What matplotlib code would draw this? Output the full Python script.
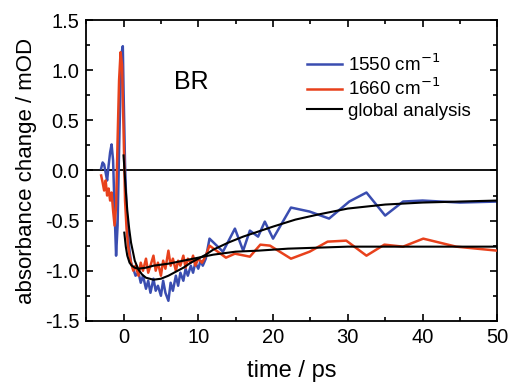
import numpy as np
import matplotlib
matplotlib.use("Agg")
import matplotlib.pyplot as plt
from matplotlib.ticker import MultipleLocator

plt.rcParams['font.family'] = ['Liberation Sans', 'DejaVu Sans']

# 1550 cm-1 transient
t_blue = [-3.0, -2.8, -2.6, -2.4, -2.2, -2.0, -1.8, -1.6, -1.4, -1.2, -1.0, -0.8,
          -0.6, -0.4, -0.2, -0.1, 0.0, 0.2, 0.4, 0.6, 0.8, 1.0, 1.3, 1.6, 2.0,
          2.3, 2.6, 3.0, 3.3, 3.6, 4.0, 4.3, 4.6, 5.0, 5.3, 5.6, 6.0, 6.3, 6.6,
          7.0, 7.3, 7.6, 8.0, 8.3, 8.6, 9.0, 9.3, 9.6, 10.0, 10.3, 10.6, 11.0,
          11.5, 13.3, 14.9, 16.0, 16.9, 18.0, 18.9, 20.0, 22.4, 24.9, 27.5,
          30.2, 32.5, 35.0, 37.4, 40.0, 45.0, 50.0]
a_blue = [0.02, 0.08, 0.06, -0.02, -0.10, 0.05, 0.18, 0.26, 0.10, -0.40, -0.85, -0.55,
          0.20, 0.85, 1.20, 1.24, 0.80, 0.05, -0.40, -0.65, -0.80, -0.92, -0.98, -1.05, -1.02,
          -1.12, -1.05, -1.18, -1.10, -1.22, -1.08, -1.20, -1.15, -1.25, -1.10, -1.22, -1.30, -1.12, -1.20,
          -1.05, -1.15, -1.02, -1.10, -0.98, -1.05, -0.95, -1.02, -0.92, -0.98, -0.90, -0.95, -0.88,
          -0.68, -0.81, -0.58, -0.80, -0.60, -0.66, -0.51, -0.68, -0.37, -0.41, -0.48,
          -0.31, -0.22, -0.45, -0.31, -0.30, -0.32, -0.31]

# 1660 cm-1 transient
t_red = [-3.0, -2.8, -2.6, -2.4, -2.2, -2.0, -1.8, -1.6, -1.4, -1.2, -1.0, -0.8,
         -0.6, -0.4, -0.2, 0.0, 0.2, 0.4, 0.6, 0.8, 1.0, 1.3, 1.6, 2.0, 2.3, 2.6,
         3.0, 3.3, 3.6, 4.0, 4.3, 4.6, 5.0, 5.3, 5.6, 6.0, 6.3, 6.6, 7.0, 7.3, 7.6,
         8.0, 8.3, 8.6, 9.0, 9.3, 9.6, 10.0, 10.5, 11.0, 11.5, 13.7, 14.9, 16.9,
         18.3, 19.6, 22.4, 24.9, 27.3, 29.8, 32.5, 34.9, 37.4, 40.1, 44.5, 50.0]
a_red = [-0.05, -0.12, -0.20, -0.10, -0.25, -0.18, -0.30, -0.22, -0.40, -0.55, -0.35, 0.30,
         0.90, 1.18, 1.05, 0.40, -0.30, -0.58, -0.75, -0.85, -0.92, -1.00, -0.95, -1.05, -0.92, -1.00,
         -0.88, -1.02, -0.95, -0.85, -1.00, -0.92, -1.05, -0.90, -0.98, -0.80, -0.95, -0.88, -1.00, -0.90, -0.95,
         -0.85, -0.97, -0.88, -0.92, -0.85, -0.95, -0.88, -0.92, -0.85, -0.75, -0.87, -0.83, -0.86,
         -0.74, -0.75, -0.88, -0.81, -0.71, -0.70, -0.85, -0.74, -0.76, -0.68, -0.76, -0.80]

# global analysis curves
t_fit_blue = [0.0, 0.25, 0.5, 0.75, 1.0, 1.5, 2.0, 2.5, 3.0, 4.0, 5.0, 6.0, 7.0, 8.0,
              9.0, 10.0, 11.0, 12.0, 14.0, 16.0, 18.0, 20.0, 23.0, 26.0, 30.0, 35.0,
              40.0, 45.0, 50.0]
a_fit_blue = [0.15, -0.15, -0.40, -0.58, -0.72, -0.90, -0.99, -1.04, -1.07, -1.09, -1.08, -1.05,
              -1.01, -0.97, -0.92, -0.88, -0.84, -0.79, -0.72, -0.66, -0.61, -0.56, -0.49,
              -0.44, -0.38, -0.34, -0.32, -0.31, -0.30]
t_fit_red = [0.1, 0.3, 0.5, 0.8, 1.1, 1.5, 2.0, 3.0, 4.0, 6.0, 8.0, 10.0, 12.0, 15.0,
             18.0, 22.0, 26.0, 30.0, 40.0, 50.0]
a_fit_red = [-0.62, -0.76, -0.85, -0.92, -0.95, -0.97, -0.98, -0.97, -0.95, -0.93, -0.90,
             -0.87, -0.84, -0.81, -0.80, -0.78, -0.77, -0.76, -0.76, -0.76]

fig = plt.figure(figsize=(5.1, 3.87), dpi=100)
ax = fig.add_axes([0.169, 0.171, 0.806, 0.777])

ax.axhline(0, color='black', lw=1.3, zorder=1)
ax.plot(t_blue, a_blue, color='#3a4db0', lw=1.8, label='1550 cm$^{-1}$', zorder=2)
ax.plot(t_red, a_red, color='#e8411c', lw=1.8, label='1660 cm$^{-1}$', zorder=3)
ax.plot(t_fit_blue, a_fit_blue, color='black', lw=1.5, label='global analysis', zorder=4)
ax.plot(t_fit_red, a_fit_red, color='black', lw=1.5, zorder=4)

ax.set_xlim(-5, 50)
ax.set_ylim(-1.5, 1.5)
ax.xaxis.set_major_locator(MultipleLocator(10))
ax.xaxis.set_minor_locator(MultipleLocator(5))
ax.yaxis.set_major_locator(MultipleLocator(0.5))
ax.yaxis.set_minor_locator(MultipleLocator(0.25))
ax.tick_params(which='both', direction='in', top=True, right=True, width=1.2)
ax.tick_params(which='major', length=5, labelsize=14.5, pad=5)
ax.tick_params(which='minor', length=3)
ax.set_yticks([-1.5, -1.0, -0.5, 0.0, 0.5, 1.0, 1.5])
ax.set_yticklabels(['-1.5', '-1.0', '-0.5', '0.0', '0.5', '1.0', '1.5'])
for s in ax.spines.values():
    s.set_linewidth(1.3)

ax.set_xlabel('time / ps', fontsize=17)
ax.set_ylabel('absorbance change / mOD', fontsize=16)
ax.xaxis.set_label_coords(0.5, -0.13)
ax.yaxis.set_label_coords(-0.12, 0.5)
ax.text(9.0, 0.88, 'BR', fontsize=18, ha='center', va='center')

ax.legend(loc='upper left', bbox_to_anchor=(0.52, 0.915), frameon=False, fontsize=13.5,
          handlelength=1.85, handletextpad=0.3, labelspacing=0.17, borderaxespad=0)

fig.savefig('out.png', dpi=100)
